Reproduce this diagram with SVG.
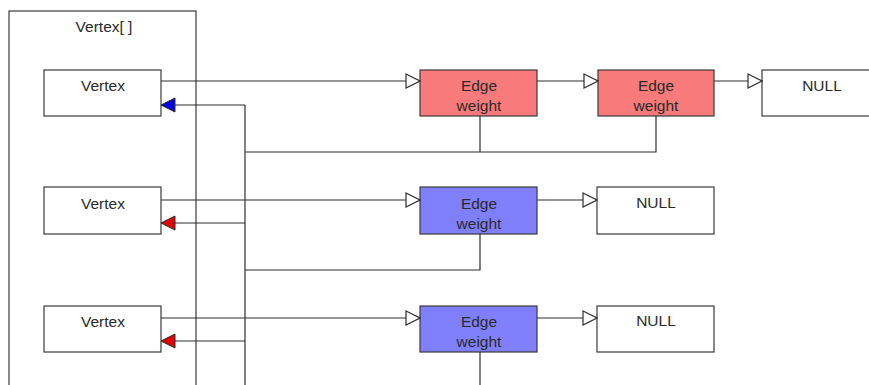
<svg xmlns="http://www.w3.org/2000/svg" width="869" height="385" viewBox="0 0 869 385">
  <style>
    .box { stroke: #3a3a3a; stroke-width: 1.2; }
    .plain { fill: #ffffff; }
    .red { fill: #f87a7a; }
    .blue { fill: #7f7ffb; }
    .wire { fill: none; stroke: #2e2e2e; stroke-width: 1.2; }
    text { font-family: "Liberation Sans", Arial, sans-serif; font-size: 15.5px; fill: #2a2a2a; text-anchor: middle; }
  </style>
  <defs>
    <marker id="open" viewBox="0 0 16 16" refX="15" refY="8" markerWidth="16" markerHeight="16" markerUnits="userSpaceOnUse" orient="auto">
      <path d="M1,1 L15,8 L1,15 Z" fill="#ffffff" stroke="#2e2e2e" stroke-width="1.2"/>
    </marker>
    <marker id="backBlue" viewBox="0 0 16 16" refX="15" refY="8" markerWidth="16" markerHeight="16" markerUnits="userSpaceOnUse" orient="auto">
      <path d="M1,1 L15,8 L1,15 Z" fill="#0000e0" stroke="#2e2e2e" stroke-width="1"/>
    </marker>
    <marker id="backRed" viewBox="0 0 16 16" refX="15" refY="8" markerWidth="16" markerHeight="16" markerUnits="userSpaceOnUse" orient="auto">
      <path d="M1,1 L15,8 L1,15 Z" fill="#e00000" stroke="#2e2e2e" stroke-width="1"/>
    </marker>
  </defs>

  <rect width="869" height="385" fill="#ffffff"/>

  <!-- array container -->
  <g id="vertex-array">
    <rect class="box plain" x="9" y="11" width="187" height="390"/>
    <text x="104" y="32">Vertex[ ]</text>
  </g>

  <g id="vertex-1">
    <rect class="box plain" x="44" y="70" width="117" height="46"/>
    <text x="103" y="91">Vertex</text>
  </g>
  <g id="vertex-2">
    <rect class="box plain" x="44" y="187" width="117" height="47"/>
    <text x="103" y="209">Vertex</text>
  </g>
  <g id="vertex-3">
    <rect class="box plain" x="44" y="306" width="117" height="46"/>
    <text x="103" y="327">Vertex</text>
  </g>

  <g id="edge-1a">
    <rect class="box red" x="420" y="70" width="117" height="46"/>
    <text x="479" y="91">Edge</text>
    <text x="479" y="111">weight</text>
  </g>
  <g id="edge-1b">
    <rect class="box red" x="598" y="70" width="116" height="46"/>
    <text x="656" y="91">Edge</text>
    <text x="656" y="111">weight</text>
  </g>
  <g id="null-1">
    <rect class="box plain" x="762" y="70" width="120" height="46"/>
    <text x="822" y="91">NULL</text>
  </g>

  <g id="edge-2">
    <rect class="box blue" x="420" y="187" width="117" height="47"/>
    <text x="479" y="209">Edge</text>
    <text x="479" y="229">weight</text>
  </g>
  <g id="null-2">
    <rect class="box plain" x="597" y="187" width="117" height="47"/>
    <text x="656" y="208">NULL</text>
  </g>

  <g id="edge-3">
    <rect class="box blue" x="420" y="306" width="117" height="46"/>
    <text x="479" y="327">Edge</text>
    <text x="479" y="347">weight</text>
  </g>
  <g id="null-3">
    <rect class="box plain" x="597" y="306" width="117" height="46"/>
    <text x="656" y="326">NULL</text>
  </g>

  <!-- connectors -->
  <g id="connectors">
    <!-- forward links along each list -->
    <path class="wire" d="M161,81 H420" marker-end="url(#open)"/>
    <path class="wire" d="M537,81 H598" marker-end="url(#open)"/>
    <path class="wire" d="M714,81 H762" marker-end="url(#open)"/>
    <path class="wire" d="M161,200 H420" marker-end="url(#open)"/>
    <path class="wire" d="M537,200 H597" marker-end="url(#open)"/>
    <path class="wire" d="M161,318 H420" marker-end="url(#open)"/>
    <path class="wire" d="M537,318 H597" marker-end="url(#open)"/>

    <!-- shared back bus -->
    <path class="wire" d="M245,105 V385"/>
    <path class="wire" d="M480,116 V152"/>
    <path class="wire" d="M656,116 V152 H245"/>
    <path class="wire" d="M480,234 V270 H245"/>
    <path class="wire" d="M480,352 V385"/>

    <!-- back pointers into the vertices -->
    <path class="wire" d="M245,105 H161" marker-end="url(#backBlue)"/>
    <path class="wire" d="M245,223 H161" marker-end="url(#backRed)"/>
    <path class="wire" d="M245,341 H161" marker-end="url(#backRed)"/>
  </g>
</svg>
